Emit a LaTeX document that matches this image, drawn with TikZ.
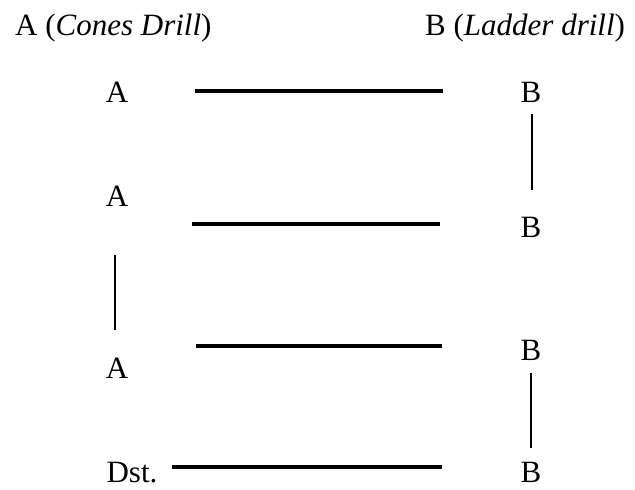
\documentclass[tikz,border=0pt]{standalone}
\usepackage{fontspec}
\setmainfont{Liberation Serif}
\begin{document}
\begin{tikzpicture}[x=1pt,y=-1pt,
  lbl/.style={anchor=base,inner sep=0pt,font=\fontsize{31}{35}\selectfont},
  ttl/.style={anchor=base west,inner sep=0pt,font=\fontsize{31}{35}\selectfont},
  hline/.style={line width=3.4pt},
  vline/.style={line width=2.8pt}]
\useasboundingbox (0,0) rectangle (635,490);
% titles
\node[ttl] (ta) at (15,35) {A (\textit{Cones Drill})};
\node[ttl] (tb) at (425,35) {B (\textit{Ladder drill})};
% row labels
\node[lbl] (a1) at (117,102) {A};
\node[lbl] (a2) at (117,206) {A};
\node[lbl] (a3) at (117,378) {A};
\node[lbl] (dst) at (132,482) {Dst.};
\node[lbl] (b1) at (531,102) {B};
\node[lbl] (b2) at (531,237) {B};
\node[lbl] (b3) at (531,360) {B};
\node[lbl] (b4) at (531,482) {B};
% horizontal line end points
\coordinate (h1l) at (195,91);  \coordinate (h1r) at (443,91);
\coordinate (h2l) at (192,224); \coordinate (h2r) at (440,224);
\coordinate (h3l) at (196,346); \coordinate (h3r) at (442,346);
\coordinate (h4l) at (172,467); \coordinate (h4r) at (442,467);
\draw[hline] (h1l) -- (h1r);
\draw[hline] (h2l) -- (h2r);
\draw[hline] (h3l) -- (h3r);
\draw[hline] (h4l) -- (h4r);
% vertical connectors
\coordinate (v1t) at (532,114); \coordinate (v1b) at (532,190);
\coordinate (v2t) at (115,255); \coordinate (v2b) at (115,330);
\coordinate (v3t) at (531,373); \coordinate (v3b) at (531,448);
\draw[vline] (v1t) -- (v1b);
\draw[vline] (v2t) -- (v2b);
\draw[vline] (v3t) -- (v3b);
\end{tikzpicture}
\end{document}
